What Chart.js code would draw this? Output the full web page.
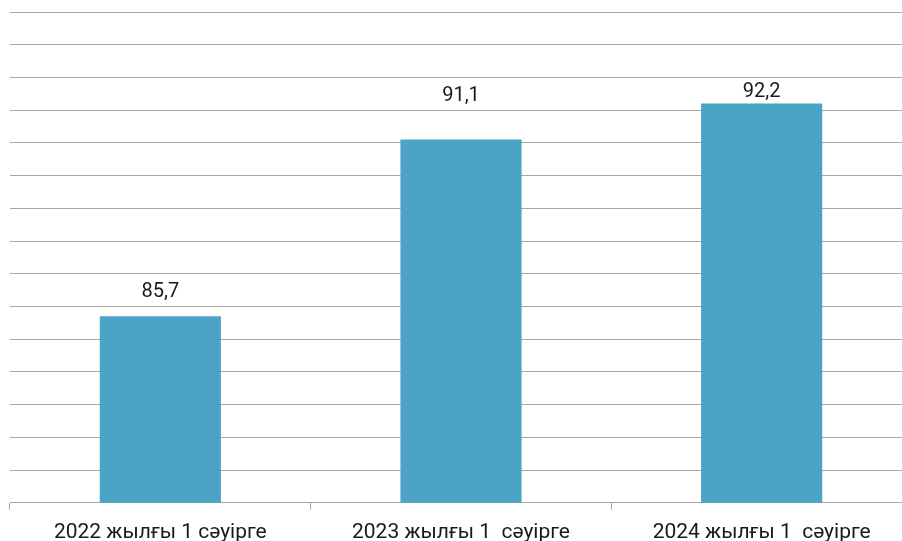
<!DOCTYPE html>
<html>
<head>
<meta charset="utf-8">
<script src="https://cdn.jsdelivr.net/npm/chart.js@4"></script>
<style>
    html, body { margin: 0; padding: 0; background: #fff; overflow: hidden; }
    #wrap { width: 920px; height: 555px; position: relative; }
</style>
</head>
<body>
<div id="wrap"><canvas id="chart"></canvas></div>
<script>
// データ
const categories = ['2022 жылғы 1 сәуірге', '2023 жылғы 1  сәуірге', '2024 жылғы 1  сәуірге'];
const values = [85.7, 91.1, 92.2];
const valueLabels = ['85,7', '91,1', '92,2'];
const yMin = 80;
const yMax = 95;
const yStep = 1;

// ラベルの持ち上げ量（バー上端からの距離、px）
const labelLift = [24, 44, 11.5];

const gridColor = '#a6a6a6';
const textColor = '#1a1a1a';
const fontFamily = 'Roboto, "Noto Sans", sans-serif';

const valueLabelPlugin = {
    id: 'valueLabels',
    afterDatasetsDraw(chart) {
        const ctx = chart.ctx;
        const meta = chart.getDatasetMeta(0);
        ctx.save();
        ctx.fillStyle = textColor;
        ctx.font = '20px ' + fontFamily;
        ctx.textAlign = 'center';
        ctx.textBaseline = 'middle';
        meta.data.forEach((bar, i) => {
            ctx.fillText(valueLabels[i], bar.x, bar.y - labelLift[i]);
        });
        ctx.restore();
    }
};

new Chart(document.getElementById('chart').getContext('2d'), {
    type: 'bar',
    data: {
        labels: categories,
        datasets: [{
            data: values,
            backgroundColor: '#4ba3c6',
            borderWidth: 0,
            categoryPercentage: 1,
            barPercentage: 0.403
        }]
    },
    options: {
        responsive: true,
        maintainAspectRatio: false,
        animation: false,
        layout: {
            padding: { left: 10, right: 8, top: 12, bottom: 0 }
        },
        plugins: {
            legend: { display: false },
            tooltip: { enabled: false }
        },
        scales: {
            x: {
                offset: true,
                grid: {
                    offset: true,
                    drawOnChartArea: false,
                    drawTicks: true,
                    tickLength: 7,
                    color: gridColor
                },
                border: { display: true, color: gridColor, width: 1 },
                ticks: {
                    color: textColor,
                    font: { family: fontFamily, size: 21 },
                    padding: 10,
                    maxRotation: 0,
                    autoSkip: false
                }
            },
            y: {
                min: yMin,
                max: yMax,
                ticks: { display: false, stepSize: yStep },
                grid: { color: gridColor, lineWidth: 1, drawTicks: false },
                border: { display: false }
            }
        }
    },
    plugins: [valueLabelPlugin]
});
</script>
</body>
</html>
